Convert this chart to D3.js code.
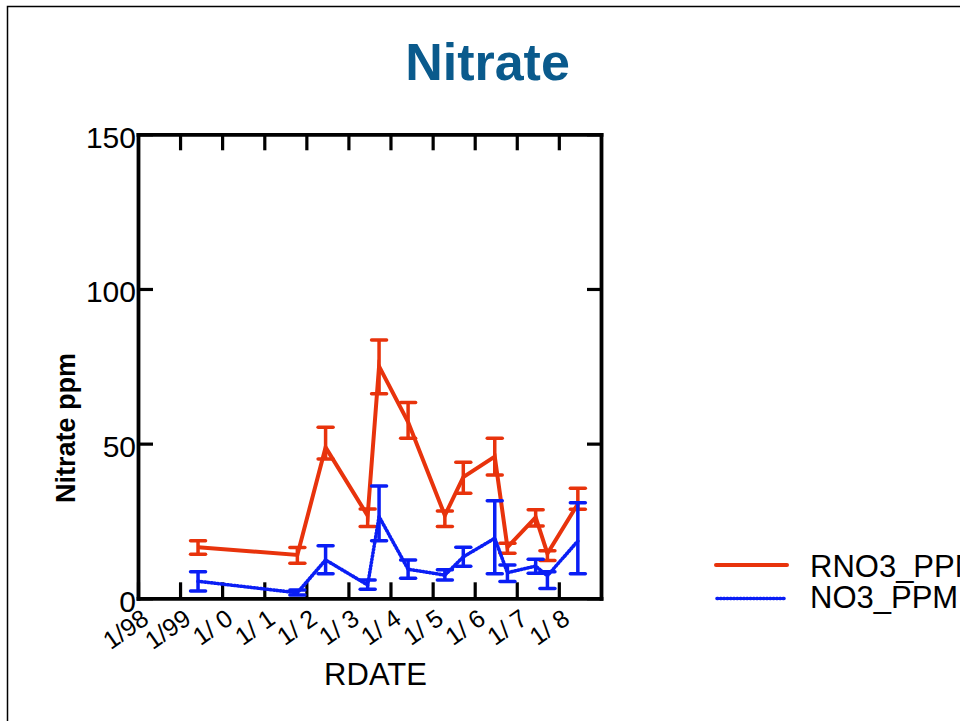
<!DOCTYPE html>
<html><head><meta charset="utf-8">
<script src="https://cdn.jsdelivr.net/npm/d3@7"></script>
<style>
html,body{margin:0;padding:0;background:#fff;}
svg{display:block;font-family:"Liberation Sans",Arial,Helvetica,sans-serif;}
</style></head><body>
<svg id="chart" width="960" height="721"></svg>
<script>
// ---- data ----
const sampleDates = ["1999-06-06","2001-10-15","2002-06-17","2003-06-17","2003-09-24","2004-06-02",
  "2005-04-17","2005-09-24","2006-06-24","2006-10-12","2007-06-14","2007-09-24","2008-06-14"];
const rno3Mean = [16.5, 14.0, 48.8, 26.7, 75.0, 57.0, 26.8, 39.2, 45.8, 16.5, 26.2, 14.5, 30.5];
const rno3Low  = [14.2, 11.3, 45.0, 23.2, 66.1, 51.7, 23.2, 34.0, 39.9, 14.6, 23.4, 12.2, 28.8];
const rno3High = [18.6, 16.4, 55.3, 28.9, 83.5, 63.3, 28.2, 44.0, 51.7, 17.8, 28.6, 15.4, 35.6];
const no3Mean  = [5.5, 1.8, 12.4, 4.3, 26.4, 9.4, 7.5, 13.4, 19.4, 8.3, 10.4, 7.3, 18.5];
const no3Low   = [2.4, 1.1, 7.9, 2.9, 18.6, 6.5, 5.9, 10.4, 7.9, 5.4, 8.1, 3.2, 7.9];
const no3High  = [8.6, 2.7, 17.0, 5.9, 36.3, 12.4, 9.2, 16.5, 31.5, 10.8, 12.6, 8.6, 30.9];
const thresholdValue = 26.3;
const yTickValues = [0, 50, 100, 150];
const xTickYears = [1998,1999,2000,2001,2002,2003,2004,2005,2006,2007,2008];
const xTickLabels = ["1/98","1/99","1/ 0","1/ 1","1/ 2","1/ 3","1/ 4","1/ 5","1/ 6","1/ 7","1/ 8"];
const seriesNames = ["RNO3_PPM","NO3_PPM"];
const chartTitle = "Nitrate";
const yTitle = "Nitrate ppm";
const xTitle = "RDATE";

// ---- drawing ----
const svg = d3.select("#chart");
const RED = "#e8330c", RED2 = "#ff2a00", BLUE = "#0a1ef5", TITLE = "#0a5a8c";
const FONT = "'Liberation Sans',Arial,Helvetica,sans-serif";
const m = {left:138, right:601, top:134.3, bottom:598.3};
const parse = d3.utcParse("%Y-%m-%d");
const x = d3.scaleUtc()
  .domain([new Date(Date.UTC(1998,0,1)), new Date(Date.UTC(2009,0,1))])
  .range([m.left, m.right]);
const y = d3.scaleLinear().domain([0,150]).range([m.bottom, m.top]);

const defs = svg.append("defs");
const f = defs.append("filter").attr("id","shadow").attr("x","-5%").attr("y","-200%").attr("width","110%").attr("height","500%");
f.append("feDropShadow").attr("dx",0).attr("dy",2).attr("stdDeviation",1.2)
  .attr("flood-color","#000").attr("flood-opacity",0.35);

// frame
svg.append("rect").attr("x",7.5).attr("y",6.5).attr("width",1000).attr("height",800)
  .attr("fill","none").attr("stroke","#000").attr("stroke-width",1.5);

// title
svg.append("text").attr("x",487.5).attr("y",80).attr("text-anchor","middle")
  .attr("font-size",52).attr("font-weight","bold").attr("fill",TITLE).text(chartTitle);

const xTicks = xTickYears.map(yr => new Date(Date.UTC(yr,0,1)));

function styleAxis(g){
  g.select(".domain").attr("stroke","#000").attr("stroke-width",3.8).attr("stroke-linecap","square");
  g.selectAll(".tick line").attr("stroke","#000").attr("stroke-width",3.2);
}

// top axis
svg.append("g").attr("transform",`translate(0,${m.top})`)
  .call(d3.axisTop(x).tickValues(xTicks.slice(1)).tickSizeInner(-16).tickSizeOuter(0).tickFormat(""))
  .call(styleAxis);
// right axis
svg.append("g").attr("transform",`translate(${m.right},0)`)
  .call(d3.axisRight(y).tickValues(yTickValues).tickSizeInner(-14).tickSizeOuter(0).tickFormat(""))
  .call(styleAxis);
// bottom axis
const gx = svg.append("g").attr("transform",`translate(0,${m.bottom})`)
  .call(d3.axisBottom(x).tickValues(xTicks).tickSizeInner(-16).tickSizeOuter(0)
    .tickFormat((d,i) => xTickLabels[i]))
  .call(styleAxis);
gx.selectAll(".tick text")
  .attr("x",0).attr("y",0).attr("dy",0)
  .attr("transform","translate(12,24) rotate(-35)")
  .attr("text-anchor","end").attr("font-size",25)
  .attr("font-family",FONT)
  .attr("fill","#000").style("white-space","pre");
// left axis
const gy = svg.append("g").attr("transform",`translate(${m.left},0)`)
  .call(d3.axisLeft(y).tickValues(yTickValues).tickSizeInner(-15).tickSizeOuter(0).tickPadding(2))
  .call(styleAxis);
gy.selectAll(".tick text").attr("dy","0.43em").attr("font-size",30)
  .attr("font-family",FONT).attr("fill","#000");

// axis titles
svg.append("text").attr("transform","translate(75,428) rotate(-90)").attr("text-anchor","middle")
  .attr("font-size",27).attr("font-weight","bold").attr("fill","#000").text(yTitle);
svg.append("text").attr("x",375.5).attr("y",685).attr("text-anchor","middle")
  .attr("font-size",31).attr("fill","#000").text(xTitle);

// series
function makeSeries(mean, lo, hi){
  return sampleDates.map((d,i) => ({date: parse(d), v: mean[i], lo: lo[i], hi: hi[i]}));
}
const red = makeSeries(rno3Mean, rno3Low, rno3High);
const blue = makeSeries(no3Mean, no3Low, no3High);
const line = d3.line().x(d => x(d.date)).y(d => y(d.v));

function drawSeries(data, color, dashed){
  const g = svg.append("g");
  const eb = g.selectAll("g.eb").data(data).join("g").attr("class","eb")
    .attr("stroke",color).attr("stroke-width",3.5).attr("fill","none");
  eb.append("line").attr("x1",d=>x(d.date)).attr("x2",d=>x(d.date)).attr("y1",d=>y(d.lo)).attr("y2",d=>y(d.hi));
  eb.append("line").attr("x1",d=>x(d.date)-7.5).attr("x2",d=>x(d.date)+7.5).attr("y1",d=>y(d.lo)).attr("y2",d=>y(d.lo)).attr("stroke-linecap","round");
  eb.append("line").attr("x1",d=>x(d.date)-7.5).attr("x2",d=>x(d.date)+7.5).attr("y1",d=>y(d.hi)).attr("y2",d=>y(d.hi)).attr("stroke-linecap","round");
  const p = g.append("path").datum(data).attr("d",line).attr("fill","none").attr("stroke",color);
  if(dashed){
    p.attr("stroke-width",3.6).attr("stroke-dasharray","1,2.3").attr("stroke-linecap","round").attr("stroke-linejoin","round");
  } else {
    p.attr("stroke-width",4);
  }
}
drawSeries(red, RED, false);
drawSeries(blue, BLUE, true);

// threshold line
svg.append("line").attr("x1",143).attr("x2",599)
  .attr("y1",y(thresholdValue)).attr("y2",y(thresholdValue))
  .attr("stroke",RED2).attr("stroke-width",3.8).attr("filter","url(#shadow)");

// legend
const leg = svg.append("g");
leg.append("line").attr("x1",716).attr("x2",787).attr("y1",565).attr("y2",565)
  .attr("stroke",RED).attr("stroke-width",4).attr("stroke-linecap","round");
leg.append("line").attr("x1",717).attr("x2",786).attr("y1",598.5).attr("y2",598.5)
  .attr("stroke",BLUE).attr("stroke-width",3.6).attr("stroke-dasharray","1,2.3").attr("stroke-linecap","round");
leg.append("text").attr("x",810).attr("y",577).attr("font-size",31).attr("fill","#000").text(seriesNames[0]);
leg.append("text").attr("x",810).attr("y",608).attr("font-size",31).attr("fill","#000").text(seriesNames[1]);
</script>
</body></html>
